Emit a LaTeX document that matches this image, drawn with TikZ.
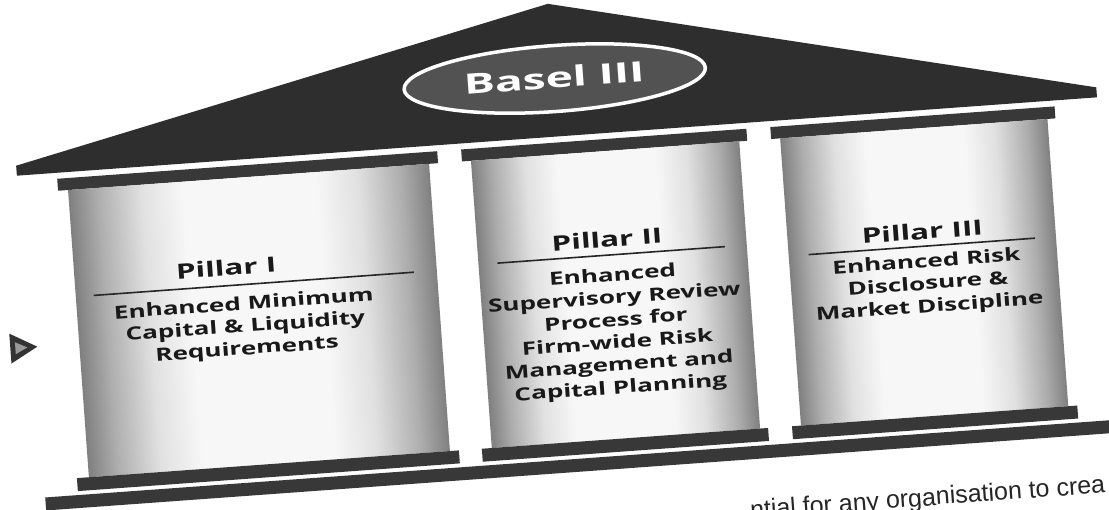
\documentclass[tikz,border=0pt]{standalone}
\usepackage{fontspec}
\newfontfamily\bodyfont[FakeStretch=1.45]{Open Sans}
\newfontfamily\headfont[FakeStretch=1.5]{Open Sans}
\newfontfamily\titlefont[FakeStretch=1.65]{Open Sans}
\newfontfamily\pagefont{Liberation Sans}
\pgfdeclarehorizontalshading{pillarshade}{100bp}{%
  color(0bp)=(black!50); color(25bp)=(black!50); color(29bp)=(black!32);
  color(35bp)=(black!12); color(41bp)=(black!3); color(59bp)=(black!3);
  color(65bp)=(black!12); color(71bp)=(black!32); color(75bp)=(black!50);
  color(100bp)=(black!50)}
\begin{document}
\begin{tikzpicture}[x=1pt,y=1pt,
  roof/.style={fill=black!82},
  band/.style={fill=black!78},
  pillarbody/.style={shading=pillarshade},
  head/.style={font=\headfont\bfseries\fontsize{21}{25}\selectfont, text=black!90, inner sep=0pt},
  body/.style={font=\bodyfont\bfseries\fontsize{18}{22.5}\selectfont, align=center, text=black!90, inner sep=0pt},
  rulel/.style={line width=1.6pt, draw=black!85},
]
\useasboundingbox (0,0) rectangle (1109,510);
\fill[white] (0,0) rectangle (1109,510);
\clip (0,0) rectangle (1109,510);
\begin{scope}[transform canvas={rotate around={4.15:(554.5,255)}}]
  % roof and title
  \fill[roof] (24,373) -- (24,383) -- (566,506) -- (1107,383) -- (1107,373) -- cycle;
  \draw[white, line width=3.5pt, fill=black!68] (567.5,431) ellipse [x radius=151, y radius=33];
  \node[font=\titlefont\bfseries\fontsize{28}{30}\selectfont, text=white] (basel) at (567,432) {Basel III};
  % top capitals
  \fill[band] (64,355) rectangle (445,367);
  \fill[band] (469,355) rectangle (755,367);
  \fill[band] (779,355) rectangle (1064,367);
  % pillar shafts
  \shade[pillarbody] (74,67) rectangle (436,355);
  \shade[pillarbody] (478,67) rectangle (747,355);
  \shade[pillarbody] (788,67) rectangle (1056,355);
  % bases and floor
  \fill[band] (62,54) rectangle (445,67);
  \fill[band] (468,54) rectangle (755,67);
  \fill[band] (779,54) rectangle (1065,67);
  \fill[band] (29,37) rectangle (1130,50);
  % pillar texts
  \node[head] (h1) at (226,266) {Pillar I};
  \coordinate (u1a) at (92,248); \coordinate (u1b) at (413,248);
  \draw[rulel] (u1a) -- (u1b);
  \node[body] (b1) at (241,205) {Enhanced Minimum\\Capital \& Liquidity\\Requirements};
  \node[head] (h2) at (608,267) {Pillar II};
  \coordinate (u2a) at (497,251); \coordinate (u2b) at (725,251);
  \draw[rulel] (u2a) -- (u2b);
  \node[body] (b2) at (611,173) {Enhanced\\Supervisory Review\\Process for\\Firm-wide Risk\\Management and\\Capital Planning};
  \node[head] (h3) at (923,252) {Pillar III};
  \coordinate (u3a) at (808,237); \coordinate (u3b) at (1035,237);
  \draw[rulel] (u3a) -- (u3b);
  \node[body] (b3) at (925,198) {Enhanced Risk\\Disclosure \&\\Market Discipline};
  % bullet and running text of the page
  \fill[black!80] (5,186) -- (5,216) -- (32,201) -- cycle;
  \fill[black!40] (10,195) -- (10,207) -- (22,201) -- cycle;
  \node[anchor=base west, inner sep=0pt, text=black!85, font=\pagefont\fontsize{25}{30}\selectfont] (txt) at (731,-22) {ntial for any organisation to crea};
\end{scope}
\end{tikzpicture}
\end{document}
